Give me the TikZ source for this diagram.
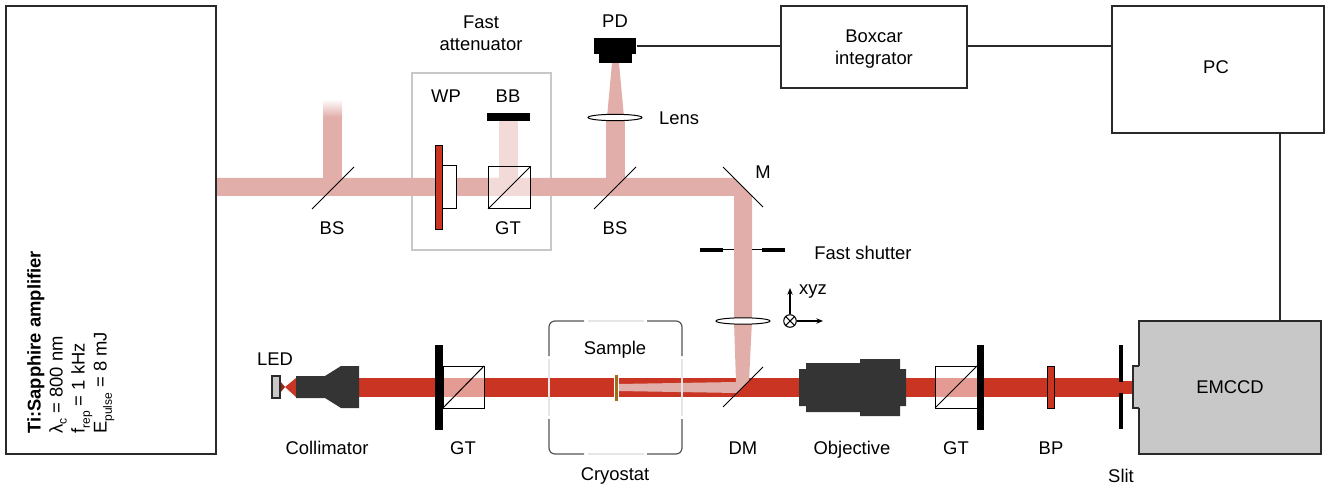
\documentclass[tikz,border=0pt]{standalone}
\usepackage{fontspec}
\setmainfont{Liberation Sans}
\usepackage{xcolor}
\usetikzlibrary{arrows.meta}
\definecolor{pumpcol}{HTML}{E2AEAA}
\definecolor{palecol}{HTML}{F2DAD8}
\definecolor{probecol}{HTML}{C93522}
\definecolor{probepale}{HTML}{E39B93}
\definecolor{darkcol}{HTML}{343434}
\definecolor{greycol}{HTML}{C8C8C8}
\definecolor{linecol}{HTML}{2A2A2A}
\definecolor{windowcol}{HTML}{E6E6E6}
\definecolor{cryocol}{HTML}{555555}
\definecolor{samplecol}{HTML}{9C6E1D}
\tikzset{
  boxnode/.style={draw=linecol,line width=0.8pt,inner sep=0pt,align=center},
  label/.style={inner sep=0.75pt,align=center},
  optic/.style={draw=black,line width=0.75pt},
  mirror/.style={draw=black,line width=0.75pt},
  dark/.style={fill=darkcol,draw=none},
  cryowall/.style={draw=cryocol,line width=0.9pt},
  cryowin/.style={draw=windowcol,line width=1.6pt},
}
\begin{document}
\begin{tikzpicture}[x=0.75pt,y=0.75pt,yscale=-1,xscale=1,font=\fontsize{13.8}{16.5}\selectfont]
\useasboundingbox (0,0) rectangle (1330,491);

%Shape: Attenuator frame
\draw [draw=greycol,line width=1pt] (412,73) rectangle (551,250);

%Beam: upper path
\fill [pumpcol] (216,178) -- (734,178) -- (752,196) -- (752,321) -- (734,321) -- (734,196) -- (216,196) -- cycle ;
\fill [pumpcol] (323,117) rectangle (342,178);
\shade [top color=white,bottom color=pumpcol] (323,99) rectangle (342,117);
\fill [pumpcol] (606,117) rectangle (625,178);
\fill [pumpcol] (607,117) -- (612,63) -- (619,63) -- (624,117) -- cycle ;
\fill [palecol] (499,121) rectangle (518,178);
\fill [palecol] (488,178) rectangle (530,196);

%Beam: lower path
\fill [probecol] (359,378) rectangle (1120,397);
\fill [probecol] (1120,381) rectangle (1134,394);
\fill [probecol] (285,387) -- (296,378) -- (296,397) -- cycle ;
\fill [probecol!75!black] (280,381) -- (285,387) -- (280,393) -- cycle ;
\fill [probepale] (443,378) rectangle (484,397);
\fill [probepale] (935,378) rectangle (977,397);
\fill [pumpcol] (734,321) -- (752,321) -- (749,381) -- (737,393) -- (618,391) -- (618,384) -- (736,382) -- cycle ;

%Shape: Laser and detection boxes
\node (laser) [boxnode,minimum width=157.5pt,minimum height=336pt] at (111,230) {};
\node (boxcar) [boxnode,minimum width=139.5pt,minimum height=61.5pt] at (874,47) {};
\node (pc) [boxnode,minimum width=159pt,minimum height=95.25pt] at (1218,69.5) {};
\node (emccd) [boxnode,fill=greycol,minimum width=136.5pt,minimum height=99.75pt] at (1230,387.5) {EMCCD};
\fill [greycol] (1133,366) rectangle (1140,408);
\draw [linecol,line width=0.8pt] (1139,366) -- (1133,366) -- (1133,408) -- (1139,408);

%Shape: PD
\fill [black] (599,54) rectangle (632,63);
\node (pd) [fill=black,inner sep=0pt,minimum width=32pt,minimum height=12pt] at (615,46) {};

%Straight Lines: signal
\coordinate (pcout) at (1280,133);
\draw [linecol,line width=0.8pt] (pd.east) -- (pd.east -| boxcar.west);
\draw [linecol,line width=0.8pt] (boxcar.east |- pd.east) -- (pd.east -| pc.west);
\draw [linecol,line width=0.8pt] (pcout) -- (pcout |- emccd.north);

%Straight Lines: mirrors
\draw [mirror] (312,209) -- (354,167);
\draw [mirror] (594,209) -- (636,167);
\draw [mirror] (723,167) -- (763,207);
\draw [mirror] (723,407) -- (763,367);

%Shape: Waveplate
\draw [optic,fill=white] (442,166) rectangle (456,209);
\draw [optic,fill=probecol] (435.5,145.5) rectangle (442,230);

%Shape: GT attenuator
\draw [optic] (488,167) rectangle (530,209);
\draw [optic] (488,209) -- (530,167);
\fill [black] (487,113) rectangle (530,121);

%Shape: Lenses
\draw [optic,fill=white] (615,117.5) circle [x radius=27,y radius=3.2];
\draw [optic,fill=white] (743,321) circle [x radius=27,y radius=3.2];

%Shape: Fast shutter
\fill [black] (700,248) rectangle (723,252.5);
\fill [black] (762,248) rectangle (785,252.5);
\draw [black,line width=0.75pt] (723,250) -- (734,250);
\draw [black,line width=0.75pt] (752,250) -- (762,250);

%Shape: xyz axes
\node (xyzc) [draw=black,line width=0.8pt,circle,inner sep=0pt,minimum size=9.4pt] at (790,321) {};
\draw [black,line width=0.8pt] (xyzc.north east) -- (xyzc.south west);
\draw [black,line width=0.8pt] (xyzc.north west) -- (xyzc.south east);
\coordinate (xyzup) at (790,288);
\coordinate (xyzright) at (823,321);
\draw [black,line width=0.8pt,-{Stealth[length=5pt,width=4pt]}] (xyzc) -- (xyzup);
\draw [black,line width=0.8pt,-{Stealth[length=5pt,width=4pt]}] (xyzc) -- (xyzright);

%Shape: LED and collimator
\draw [linecol,line width=0.8pt,fill=greycol] (272,376) rectangle (280,398);
\fill [dark] (296,376) -- (325,376) -- (341,366) -- (359,366) -- (359,408) -- (341,408) -- (325,398) -- (296,398) -- cycle ;

%Shape: GT lower left and right
\fill [black] (435,344.5) rectangle (443,430);
\draw [optic] (443,366) rectangle (484,408);
\draw [optic] (443,408) -- (484,366);
\draw [optic] (935,366) rectangle (977,408);
\draw [optic] (935,408) -- (977,366);
\fill [black] (977,344.5) rectangle (984,430);

%Shape: Cryostat
\draw [cryowall] (584,321) -- (555,321) arc [start angle=-90,end angle=-180,radius=6] -- (549,356);
\draw [cryowall] (647,321) -- (676,321) arc [start angle=-90,end angle=0,radius=6] -- (682,356);
\draw [cryowall] (549,419) -- (549,448) arc [start angle=180,end angle=90,radius=6] -- (584,454);
\draw [cryowall] (682,419) -- (682,448) arc [start angle=0,end angle=90,radius=6] -- (647,454);
\draw [cryowin] (588,321) -- (644,321);
\draw [cryowin] (588,454) -- (644,454);
\draw [cryowin] (549,359) -- (549,416);
\draw [cryowin] (682,359) -- (682,416);
\draw [draw=white,line width=0.4pt,fill=samplecol] (613.8,374) rectangle (618,401);

%Shape: Objective
\fill [dark] (799,369) -- (806,369) -- (806,363) -- (860,363) -- (860,359) -- (900,359) -- (900,369) -- (906,369) -- (906,406) -- (900,406) -- (900,416) -- (860,416) -- (860,412) -- (806,412) -- (806,406) -- (799,406) -- cycle ;

%Shape: BP and slit
\draw [draw=black,line width=0.75pt,fill=probecol] (1047.5,366) rectangle (1054,408);
\fill [black] (1119,345) rectangle (1123,382);
\fill [black] (1119,393) rectangle (1123,429);

% Text Node
\draw (27,434) node (lasertxt) [rotate=90,anchor=north west,inner sep=0pt,align=left] {\textbf{Ti:Sapphire amplifier}\\
λ\raisebox{-3pt}{\fontsize{9}{9}\selectfont c} = 800 nm\\
f\raisebox{-4pt}{\fontsize{9}{9}\selectfont rep} = 1 kHz\\
E\raisebox{-4pt}{\fontsize{9}{9}\selectfont pulse} = 8 mJ};
% Text Node
\draw (874,49) node (boxcartxt) [label] {Boxcar\\integrator};
% Text Node
\draw (1216,67) node (pctxt) [label] {PC};
% Text Node
\draw (481,33) node (fasttxt) [label] {Fast\\attenuator};
% Text Node
\draw (446,96) node (wptxt) [label] {WP};
% Text Node
\draw (508,96) node (bbtxt) [label] {BB};
% Text Node
\draw (332,228) node (bstxta) [label] {BS};
% Text Node
\draw (508,228) node (gttxta) [label] {GT};
% Text Node
\draw (615,228) node (bstxtb) [label] {BS};
% Text Node
\draw (615,21) node (pdtxt) [label] {PD};
% Text Node
\draw (679,118) node (lenstxt) [label] {Lens};
% Text Node
\draw (763,172) node (mtxt) [label] {M};
% Text Node
\draw (863,253) node (shuttertxt) [label] {Fast shutter};
% Text Node
\draw (813,292) node (xyztxt) [label] {xyz};
% Text Node
\draw (275,359) node (ledtxt) [label] {LED};
% Text Node
\draw (327,448) node (colltxt) [label] {Collimator};
% Text Node
\draw (463,448) node (gttxtb) [label] {GT};
% Text Node
\draw (615,350) node (sampletxt) [label] {Sample};
% Text Node
\draw (615,476) node (cryotxt) [label] {Cryostat};
% Text Node
\draw (743,448) node (dmtxt) [label] {DM};
% Text Node
\draw (852,449.5) node (objtxt) [label] {Objective};
% Text Node
\draw (956,448) node (gttxtc) [label] {GT};
% Text Node
\draw (1051,448) node (bptxt) [label] {BP};
% Text Node
\draw (1121,476) node (slittxt) [label] {Slit};

\end{tikzpicture}
\end{document}
